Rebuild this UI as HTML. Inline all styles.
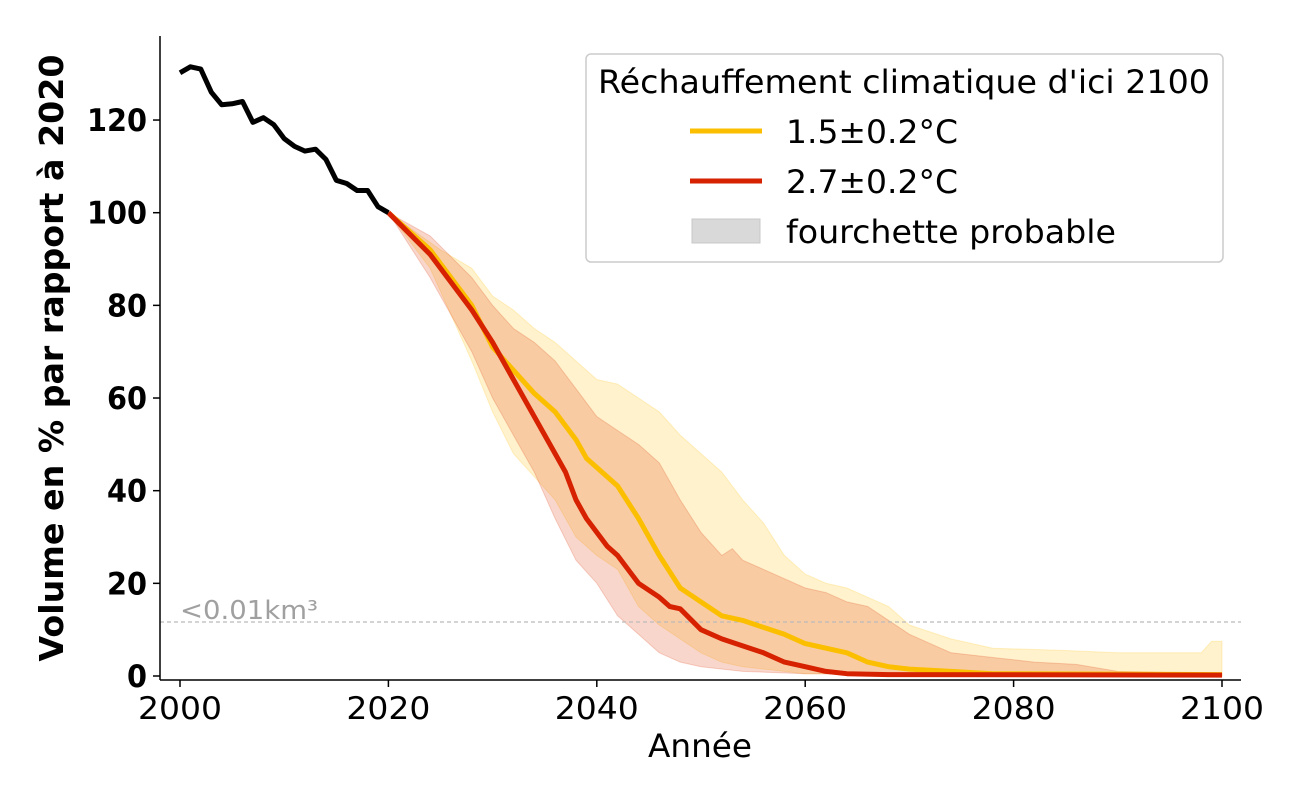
<!DOCTYPE html>
<html><head><meta charset="utf-8"><style>
body{margin:0;background:#fff}
svg{display:block;font-family:"DejaVu Sans","Liberation Sans",sans-serif}
</style></head><body>
<svg id="s" width="1300" height="800" xmlns="http://www.w3.org/2000/svg">
<rect width="1300" height="800" fill="#fff"/>
<g id="plot"></g>
<line x1="160" y1="36" x2="160" y2="680" stroke="#000" stroke-width="1.5"/>
<line x1="160" y1="680" x2="1241" y2="680" stroke="#000" stroke-width="1.5"/>
<g id="ticks"></g>
<text x="700" y="757" font-size="32" text-anchor="middle" textLength="104" lengthAdjust="spacingAndGlyphs">Année</text>
<text transform="translate(63,358) rotate(-90)" font-size="33" font-weight="bold" text-anchor="middle" textLength="607" lengthAdjust="spacingAndGlyphs">Volume en % par rapport à 2020</text>
<text x="180" y="619" font-size="26" fill="#a0a0a0" textLength="138" lengthAdjust="spacingAndGlyphs">&lt;0.01km³</text>
<rect x="586" y="54" width="637" height="208" rx="5" fill="#fff" fill-opacity="0.85" stroke="#ccc" stroke-width="1.5"/>
<text x="598" y="93" font-size="32" textLength="612" lengthAdjust="spacingAndGlyphs">Réchauffement climatique d'ici 2100</text>
<line x1="690" y1="131" x2="762" y2="131" stroke="#fbbf00" stroke-width="5"/>
<text x="786" y="143" font-size="32" textLength="172" lengthAdjust="spacingAndGlyphs">1.5±0.2°C</text>
<line x1="690" y1="181" x2="762" y2="181" stroke="#d62200" stroke-width="5"/>
<text x="786" y="193" font-size="32" textLength="172" lengthAdjust="spacingAndGlyphs">2.7±0.2°C</text>
<rect x="692" y="219" width="68" height="24" fill="#d9d9d9" stroke="#c8c8c8"/>
<text x="786" y="243" font-size="32" textLength="330" lengthAdjust="spacingAndGlyphs">fourchette probable</text>
</svg>
<script>
const X=y=>180+(y-2000)*10.42, Y=v=>676-v*4.633;
function path(a){return a.map((p,i)=>(i?'L':'M')+X(p[0]).toFixed(1)+','+Y(p[1]).toFixed(1)).join(' ')}
function pairs(a){const r=[];for(let i=0;i<a.length;i+=2)r.push([a[i],a[i+1]]);return r}
const black=pairs([2000,130.2,2001,131.5,2002,131,2003,126,2004,123.3,2005,123.5,2006,124,2007,119.5,2008,120.5,2009,119,2010,116,2011,114.3,2012,113.3,2013,113.7,2014,111.5,2015,107,2016,106.3,2017,104.8,2018,104.8,2019,101.3,2020,100]);
const yel=pairs([2020,100,2024,92,2028,80,2030,71,2032,66,2034,61,2036,57,2038,51,2039,47,2040,45,2042,41,2044,34,2046,26,2048,19,2049,17.5,2050,16,2052,13,2054,12,2056,10.5,2058,9,2060,7,2062,6,2064,5,2066,3,2068,2,2070,1.5,2074,1,2078,0.5,2100,0.3]);
const red=pairs([2020,100,2024,91,2028,79,2030,72,2032,64,2034,56,2036,48,2037,44,2038,38,2039,34,2040,31,2041,28,2042,26,2044,20,2046,17,2047,15,2048,14.5,2050,10,2052,8,2054,6.5,2056,5,2058,3,2060,2,2062,1,2064,0.5,2068,0.3,2100,0.2]);
const yu=pairs([2020,100,2025,92,2028,88,2030,82,2032,79,2034,75,2036,72,2038,68,2040,64,2042,63,2044,60,2046,57,2048,52,2050,48,2052,44,2054,38,2056,33,2058,26,2060,22,2062,20,2064,19,2066,17,2068,15,2070,11,2074,8,2078,6,2085,5.5,2090,5,2098,5,2099,7.5,2100,7.5]);
const yl=pairs([2020,100,2024,88,2028,68,2030,57,2032,48,2034,43,2036,38,2038,30,2040,26,2042,23,2044,15,2046,11,2048,8,2050,5,2052,3,2054,2,2058,1,2060,0.5,2100,0]);
const ru=pairs([2020,100,2024,95,2028,86,2030,80,2032,75,2034,72,2036,68,2038,62,2040,56,2042,53,2044,50,2046,46,2048,38,2050,31,2052,26,2053,27.5,2054,25,2056,23,2058,21,2060,19,2062,18,2064,16,2066,15,2068,12,2070,9,2072,7,2074,5,2078,4,2082,3,2086,2.5,2090,1,2100,0.5]);
const rl=pairs([2020,100,2024,86,2028,70,2030,60,2032,52,2034,44,2036,34,2038,25,2040,20,2042,13,2044,9,2046,5,2048,3,2050,2,2054,1,2060,0.5,2100,0]);
let h='';
h+=`<path d="${path(yu)} ${path(yl.slice().reverse()).replace('M','L')} Z" fill="#ffc000" fill-opacity="0.2" stroke="#ffc000" stroke-opacity="0.2"/>`;
h+=`<path d="${path(ru)} ${path(rl.slice().reverse()).replace('M','L')} Z" fill="#dd3300" fill-opacity="0.2" stroke="#dd3300" stroke-opacity="0.2"/>`;
h+=`<line x1="160" y1="622" x2="1241" y2="622" stroke="#bbb" stroke-width="1.2" stroke-dasharray="4,3"/>`;
h+=`<path d="${path(yel)}" fill="none" stroke="#fbbf00" stroke-width="5" stroke-linejoin="round"/>`;
h+=`<path d="${path(red)}" fill="none" stroke="#d62200" stroke-width="5" stroke-linejoin="round"/>`;
h+=`<path d="${path(black)}" fill="none" stroke="#000" stroke-width="5" stroke-linejoin="round"/>`;
document.getElementById('plot').innerHTML=h;
let t='';
for(let v=0;v<=120;v+=20){const y=Y(v);const w=v<10?20:v<100?40:60;t+=`<line x1="153" y1="${y}" x2="160" y2="${y}" stroke="#000" stroke-width="1.5"/><text x="147" y="${y+11}" text-anchor="end" font-weight="bold" font-size="31" textLength="${w}" lengthAdjust="spacingAndGlyphs">${v}</text>`}
for(let yr=2000;yr<=2100;yr+=20){const x=X(yr);t+=`<line x1="${x}" y1="680" x2="${x}" y2="687" stroke="#000" stroke-width="1.5"/><text x="${x}" y="719" text-anchor="middle" font-size="31" textLength="84" lengthAdjust="spacingAndGlyphs">${yr}</text>`}
document.getElementById('ticks').innerHTML=t;
</script>
</body></html>
